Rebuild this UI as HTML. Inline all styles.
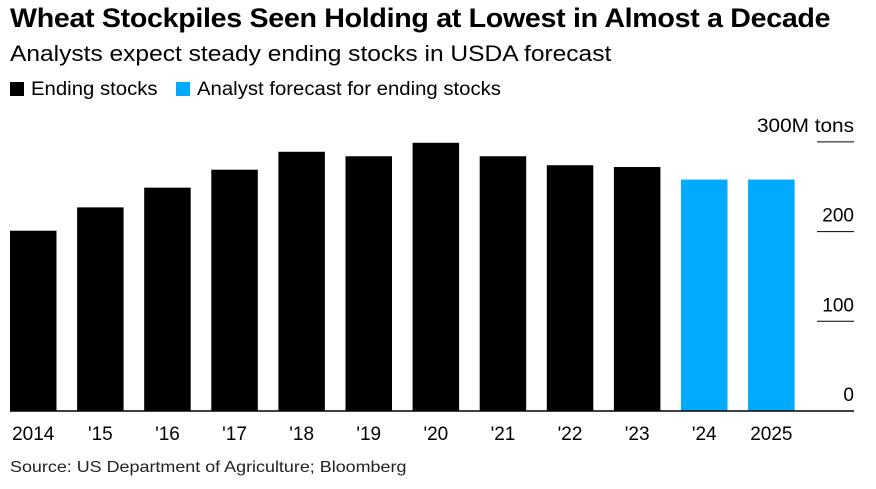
<!DOCTYPE html>
<html><head><meta charset="utf-8"><style>
body{margin:0;background:#fff;font-family:"Liberation Sans",sans-serif;}
#wrap{position:relative;width:876px;height:489px;overflow:hidden;}
.t{position:absolute;white-space:nowrap;color:#000;transform-origin:left top;}
</style></head><body>
<div id="wrap">
<div class="t" style="left:10px;top:3px;font-size:27px;font-weight:bold;letter-spacing:-0.3px;transform:scaleX(1.06);">Wheat Stockpiles Seen Holding at Lowest in Almost a Decade</div>
<div class="t" style="left:10px;top:41px;font-size:22px;transform:scaleX(1.115);">Analysts expect steady ending stocks in USDA forecast</div>
<div class="t" style="left:10px;top:79px;font-size:19px;"><span style="display:inline-block;width:14px;height:14px;background:#000;margin-right:7px;vertical-align:-1px"></span><span style="display:inline-block;transform:scaleX(1.07);transform-origin:left">Ending stocks</span></div>
<div class="t" style="left:176px;top:79px;font-size:19px;"><span style="display:inline-block;width:14px;height:14px;background:#00aaff;margin-right:7px;vertical-align:-1px"></span><span style="display:inline-block;transform:scaleX(1.07);transform-origin:left">Analyst forecast for ending stocks</span></div>
<svg id="chart" width="876" height="489" style="position:absolute;left:0;top:0"></svg>
<div class="t" style="left:10px;top:459px;font-size:16px;color:#222;transform:scaleX(1.12);">Source: US Department of Agriculture; Bloomberg</div>
</div>
<script>
const categories=["2014","'15","'16","'17","'18","'19","'20","'21","'22","'23","'24","2025"];
const values=[201,227,249,269,289,284,299,284,274,272,258,258];
const isForecast=[false,false,false,false,false,false,false,false,false,false,true,true];
const ticks=[0,100,200,300];
const tickLabels=["0","100","200","300M tons"];
const NS="http://www.w3.org/2000/svg";
const svg=document.getElementById('chart');
const y0=411, pxPer=0.897;
function y(v){return y0-v*pxPer;}
function x(i){return 10+i*67.1;}
const bw=46.5;
function mk(t,a){const e=document.createElementNS(NS,t);for(const k in a)e.setAttribute(k,a[k]);svg.appendChild(e);return e;}
ticks.forEach((t,i)=>{
  if(t>0){const l=mk('line',{x1:817,x2:854,y1:y(t),y2:y(t),stroke:'#000','stroke-width':1});
  
  }
  const tx=mk('text',{x:854,y:y(t)-10,'text-anchor':'end','font-size':19,'font-family':'Liberation Sans, sans-serif'});
  tx.textContent=tickLabels[i];
  if(i===3){tx.setAttribute('textLength',97);tx.setAttribute('lengthAdjust','spacingAndGlyphs');}
  
  
});
values.forEach((v,i)=>{
  const r=mk('rect',{x:x(i),y:y(v),width:bw,height:y0-y(v),fill:isForecast[i]?'#00aaff':'#000'});
  
  
  const tx=mk('text',{x:x(i)+bw/2,y:440,'text-anchor':'middle','font-size':19,'font-family':'Liberation Sans, sans-serif'});
  tx.textContent=categories[i];
  
  
});
const b=mk('line',{x1:10,x2:854,y1:y0,y2:y0,stroke:'#000','stroke-width':1.5});


</script>
</body></html>
